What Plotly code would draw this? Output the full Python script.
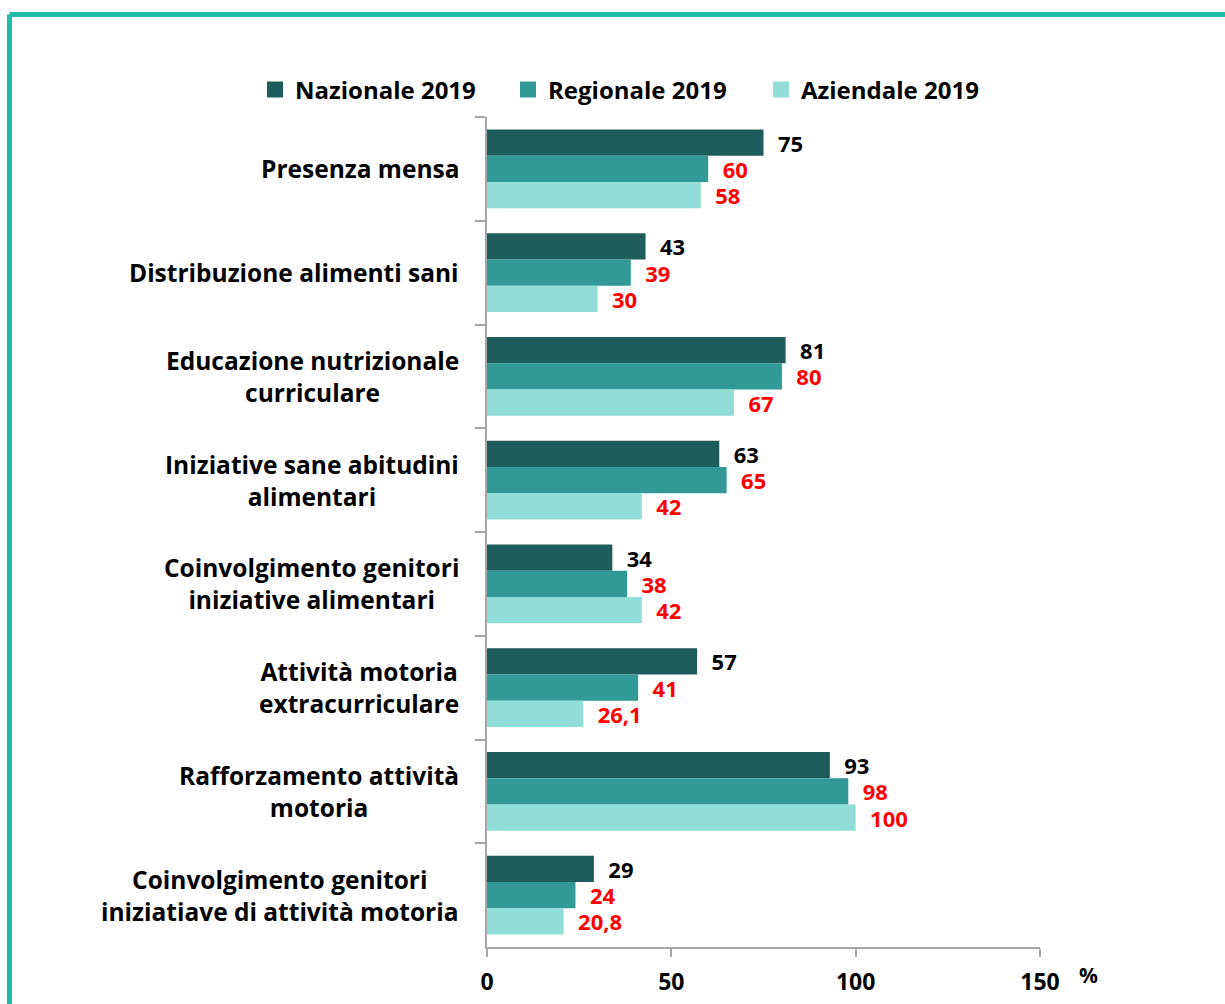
import plotly.graph_objects as go

# Indicatori scuola: percentuali 2019 per livello territoriale
categorie = [
    "Presenza mensa",
    "Distribuzione alimenti sani",
    "Educazione nutrizionale<br>curriculare",
    "Iniziative sane abitudini<br>alimentari",
    "Coinvolgimento genitori<br>iniziative alimentari",
    "Attività motoria<br>extracurriculare",
    "Rafforzamento attività<br>motoria",
    "Coinvolgimento genitori<br>iniziatiave di attività motoria",
]
nazionale = [75, 43, 81, 63, 34, 57, 93, 29]
regionale = [60, 39, 80, 65, 38, 41, 98, 24]
aziendale = [58, 30, 67, 42, 42, 26.1, 100, 20.8]

serie = [
    ("Nazionale 2019", nazionale, "#1F5C5C", "#000000"),
    ("Regionale 2019", regionale, "#329A96", "#FF0000"),
    ("Aziendale 2019", aziendale, "#91DDD8", "#FF0000"),
]
x_ticks = [0, 50, 100, 150]

FONT = "Open Sans"
PAD = "\u00a0\u00a0"


def etichetta(v):
    return PAD + f"{v:g}".replace(".", ",")


# Geometria dell'area del grafico (pixel)
L, R, T, B = 487, 1040, 117, 947
W, H = R - L, B - T


def px(xp):
    return (xp - L) / W


def py(yp):
    return (B - yp) / H


fig = go.Figure()
for nome, valori, colore, col_testo in serie:
    fig.add_trace(go.Bar(
        name=nome,
        y=categorie,
        x=valori,
        orientation="h",
        marker=dict(color=colore, line=dict(width=0)),
        text=[etichetta(v) for v in valori],
        textposition="outside",
        constraintext="none",
        textfont=dict(family=FONT, size=22, color=col_testo, weight=700),
        cliponaxis=False,
        showlegend=False,
    ))

# Voci di legenda con simbolo quadrato
for nome, _, colore, _ in serie:
    fig.add_trace(go.Scatter(
        name=nome, x=[None], y=[None], mode="markers",
        marker=dict(symbol="square", size=16, color=colore),
        showlegend=True, hoverinfo="skip",
    ))

# Etichette di categoria centrate su più righe
for c in categorie:
    fig.add_annotation(
        x=0, xref="paper", y=c, yref="y",
        text=c, showarrow=False,
        xanchor="right", yanchor="middle", xshift=-26, align="center",
        font=dict(family=FONT, size=24.5, color="#000000", weight=700),
    )

# Unità di misura dell'asse x
fig.add_annotation(
    x=px(1088), xref="paper", y=py(975), yref="paper",
    text="%", showarrow=False, xanchor="center", yanchor="middle",
    font=dict(family=FONT, size=21, color="#000000", weight=700),
)

# Cornice verde acqua (lati superiore e sinistro)
bordo = "#1DBDA9"
fig.add_shape(type="line", xref="paper", yref="paper",
              x0=px(9.5), x1=px(1240), y0=py(14.5), y1=py(14.5),
              line=dict(color=bordo, width=5))
fig.add_shape(type="line", xref="paper", yref="paper",
              x0=px(9.5), x1=px(9.5), y0=py(14.5), y1=py(1020),
              line=dict(color=bordo, width=5))

fig.update_layout(
    width=1225, height=1004,
    margin=dict(l=L, r=1225 - R, t=T, b=1004 - B),
    paper_bgcolor="white", plot_bgcolor="white",
    barmode="group", bargap=0.24, bargroupgap=0,
    showlegend=True,
    legend=dict(
        orientation="h", x=px(255), xanchor="left", y=py(90), yanchor="middle",
        font=dict(family=FONT, size=24, color="#000000", weight=700),
        entrywidth=208, entrywidthmode="pixels",
        traceorder="normal", bgcolor="rgba(0,0,0,0)",
    ),
    xaxis=dict(
        range=[0, 150], tickvals=x_ticks, ticktext=[str(t) for t in x_ticks],
        automargin=False,
        showgrid=False, zeroline=False,
        showline=True, linecolor="#A6A6A6", linewidth=1.5,
        ticks="outside", ticklen=8, tickcolor="#A6A6A6", tickwidth=1.5,
        tickfont=dict(family=FONT, size=23, color="#000000", weight=700),
        ticklabelstandoff=6,
    ),
    yaxis=dict(
        type="category", range=[len(categorie) - 0.5, -0.5],
        automargin=False,
        showgrid=False, zeroline=False,
        showline=True, linecolor="#A6A6A6", linewidth=1.5,
        ticks="outside", ticklen=10, tickcolor="#A6A6A6", tickwidth=1.5,
        tickson="boundaries", showticklabels=False,
    ),
)

fig.write_html("out.html")
